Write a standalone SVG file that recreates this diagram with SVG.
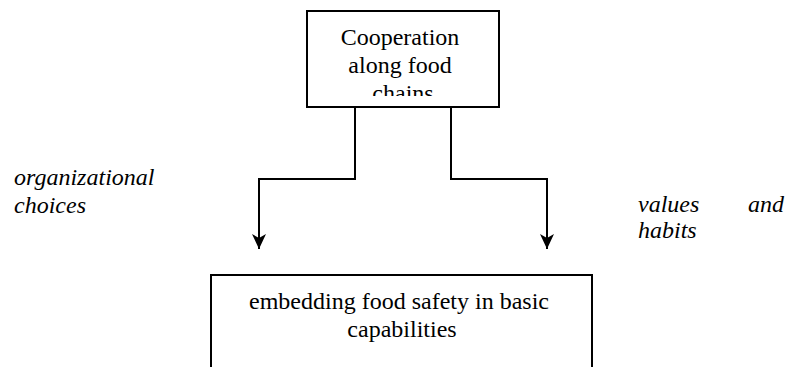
<svg xmlns="http://www.w3.org/2000/svg" width="794" height="367" viewBox="0 0 794 367">
  <style>
    .box { fill: #ffffff; stroke: #000000; stroke-width: 2; }
    .txt { font-family: "Liberation Serif", "Times New Roman", serif; font-size: 24px; fill: #000000; }
    .lbl { font-family: "Liberation Serif", "Times New Roman", serif; font-size: 24px; font-style: italic; fill: #000000; }
    .conn { fill: none; stroke: #000000; stroke-width: 2; }
  </style>
  <defs>
    <marker id="arrow" viewBox="0 0 16 16" refX="15" refY="8" markerWidth="16" markerHeight="16" markerUnits="userSpaceOnUse" orient="auto">
      <path d="M15,8 L0,1 L4,8 L0,15 Z" fill="#000000"/>
    </marker>
    <clipPath id="topclip">
      <rect x="308" y="12" width="190" height="84"/>
    </clipPath>
  </defs>
  <rect x="0" y="0" width="794" height="367" fill="#ffffff"/>

  <g id="connectors">
    <path class="conn" d="M355,107 V179 H259 V249" marker-end="url(#arrow)"/>
    <path class="conn" d="M451,107 V179 H547 V249" marker-end="url(#arrow)"/>
  </g>

  <g id="node-cooperation">
    <rect class="box" x="307" y="11" width="192" height="96"/>
    <g clip-path="url(#topclip)">
      <text class="txt" text-anchor="middle">
        <tspan x="403" y="45">Cooperation</tspan>
        <tspan x="403" y="73">along food</tspan>
        <tspan x="403" y="101">chains</tspan>
      </text>
    </g>
  </g>

  <g id="node-embedding">
    <rect class="box" x="211" y="275" width="381" height="110"/>
    <text class="txt" text-anchor="middle">
      <tspan x="402" y="309">embedding food safety in basic</tspan>
      <tspan x="402" y="337">capabilities</tspan>
    </text>
  </g>

  <g id="label-organizational">
    <text class="lbl">
      <tspan x="14" y="185">organizational</tspan>
      <tspan x="14" y="213">choices</tspan>
    </text>
  </g>

  <g id="label-values">
    <text class="lbl">
      <tspan x="638" y="212">values</tspan>
      <tspan x="790" y="212" text-anchor="end">and</tspan>
      <tspan x="638" y="238">habits</tspan>
    </text>
  </g>
</svg>
